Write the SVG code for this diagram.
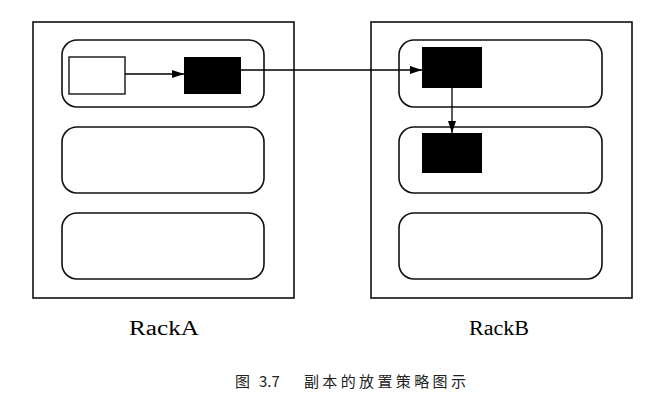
<svg xmlns="http://www.w3.org/2000/svg" width="662" height="404" viewBox="0 0 662 404">
<style>
.rack{fill:#fff;stroke:#111;stroke-width:1.6}
.srv{fill:#fff;stroke:#111;stroke-width:1.6}
.blk{fill:#000}
.wht{fill:#fff;stroke:#222;stroke-width:1.5}
.ln{fill:none;stroke:#000;stroke-width:1.3}
.lbl{font-family:"Liberation Serif","Times New Roman",serif;font-size:20px;fill:#000}
.cap{font-family:"Noto Sans CJK SC","Liberation Sans",sans-serif;font-size:15px;fill:#222}
</style>
<defs>
<marker id="ah" viewBox="0 0 12 8" refX="12" refY="4" markerWidth="12" markerHeight="8" markerUnits="userSpaceOnUse" orient="auto">
<path d="M0,0 L12,4 L0,8 Z" fill="#000"/>
</marker>
</defs>
<rect width="662" height="404" fill="#fff"/>
<g id="rackA">
<rect class="rack" x="33" y="22" width="261" height="276"/>
<rect class="srv" x="62" y="40" width="202" height="67" rx="15"/>
<rect class="srv" x="62" y="127" width="202" height="66" rx="15"/>
<rect class="srv" x="62" y="213" width="202" height="66" rx="15"/>
</g>
<g id="blockA-src"><rect class="wht" x="69" y="57" width="56" height="37"/></g>
<g id="blockA"><rect class="blk" x="184" y="57" width="57" height="37"/></g>
<g id="rackB">
<rect class="rack" x="371" y="22" width="261" height="276"/>
<rect class="srv" x="399" y="40" width="203" height="67" rx="15"/>
<rect class="srv" x="399" y="127" width="203" height="66" rx="15"/>
<rect class="srv" x="399" y="213" width="203" height="66" rx="15"/>
</g>
<g id="blockB1"><rect class="blk" x="422" y="47" width="60" height="41"/></g>
<g id="blockB2"><rect class="blk" x="422" y="133" width="60" height="40"/></g>
<g id="connectors">
<line class="ln" x1="125" y1="74" x2="184" y2="74" marker-end="url(#ah)"/>
<line class="ln" x1="241" y1="70" x2="422" y2="70" marker-end="url(#ah)"/>
<line class="ln" x1="452" y1="88" x2="452" y2="133" marker-end="url(#ah)"/>
</g>
<g id="labels">
<text class="lbl" x="129" y="335" textLength="70" lengthAdjust="spacingAndGlyphs">RackA</text>
<text class="lbl" x="469" y="335" textLength="60" lengthAdjust="spacingAndGlyphs">RackB</text>
<text class="cap" y="387"><tspan x="235">图</tspan><tspan x="259">3.7</tspan><tspan x="304" textLength="162" lengthAdjust="spacing">副本的放置策略图示</tspan></text>
</g>
</svg>
